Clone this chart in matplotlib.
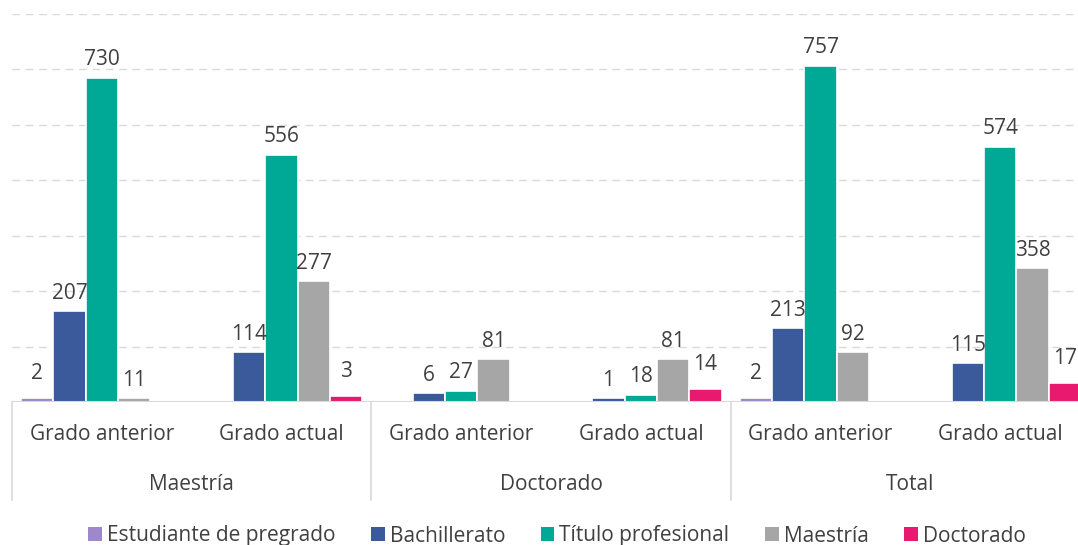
import matplotlib
matplotlib.use("Agg")
import matplotlib.pyplot as plt
from matplotlib.patches import Patch
import matplotlib.transforms as mtransforms

plt.rcParams['font.family'] = ['Open Sans', 'DejaVu Sans']

groups = ["Maestría", "Doctorado", "Total"]
subcats = ["Grado anterior", "Grado actual"]
series = ["Estudiante de pregrado", "Bachillerato", "Título profesional", "Maestría", "Doctorado"]
colors = ["#9F88C9", "#3A5A9C", "#00A896", "#A6A6A6", "#E8196E"]

# data labels as printed on the chart ("" = no label)
lbl_pregrado = ["2", "", "", "", "2", ""]
lbl_bachillerato = ["207", "114", "6", "1", "213", "115"]
lbl_titulo = ["730", "556", "27", "18", "757", "574"]
lbl_maestria = ["11", "277", "81", "81", "92", "358"]
lbl_doctorado = ["", "3", "", "14", "", "17"]

# bar heights as drawn on the chart (axis units)
h_pregrado = [10, 0, 0, 0, 10, 0]
h_bachillerato = [205, 112, 20, 10, 168, 89]
h_titulo = [730, 556, 24, 15, 757, 574]
h_maestria = [10, 274, 98, 98, 112, 302]
h_doctorado = [0, 14, 0, 29, 0, 42]

labels = [lbl_pregrado, lbl_bachillerato, lbl_titulo, lbl_maestria, lbl_doctorado]
heights = [h_pregrado, h_bachillerato, h_titulo, h_maestria, h_doctorado]
label_offsets = [10, 5, 6, 5, 10]  # points above bar top, per series

W, H = 1078, 545
fig = plt.figure(figsize=(W / 100, H / 100), dpi=100)
left, right = 12 / W, 1090 / W
bottom, top = 1 - 402 / H, 1 - 14 / H
ax = fig.add_axes([left, bottom, right - left, top - bottom])

ncat = len(groups) * len(subcats)
ax.set_xlim(0, ncat)
ax.set_ylim(0, 875)
ax.set_yticks([125, 250, 375, 500, 625, 750, 875])
ax.yaxis.grid(True, color="#D9D9D9", linestyle=(0, (5.5, 4.1)), linewidth=1)
ax.set_axisbelow(True)
for s in ax.spines.values():
    s.set_visible(False)
ax.tick_params(left=False, bottom=False, labelleft=False, labelbottom=False)

bw = 0.18
txtc = "#404040"
fs = 15
for k, (hs, lbs, c) in enumerate(zip(heights, labels, colors)):
    xs = [i + 0.5 + (k - 2) * bw for i in range(ncat)]
    ax.bar(xs, hs, width=bw, color=c, edgecolor="white", linewidth=1.2, zorder=2)
    for x, v, t in zip(xs, hs, lbs):
        if t:
            ax.annotate(t, (x, v), xytext=(0, label_offsets[k]), textcoords="offset points",
                        ha="center", va="bottom", fontsize=fs, color=txtc, zorder=3)

# baseline
ax.axhline(0, color="#D9D9D9", linewidth=1.5, zorder=3)

trans = mtransforms.blended_transform_factory(ax.transData, ax.transAxes)
axh_px = 402 - 14
sep_bottom = -(500 - 402) / axh_px
for b in range(0, ncat + 1, 2):
    ax.plot([b, b], [0, sep_bottom], transform=trans, color="#D9D9D9",
            linewidth=1.2, clip_on=False)

sub_y = -(435 - 402) / axh_px
grp_y = -(484 - 402) / axh_px
for gi, g in enumerate(groups):
    for si, s in enumerate(subcats):
        ax.text(gi * 2 + si + 0.5, sub_y, s, transform=trans, ha="center", va="center",
                fontsize=fs, color=txtc)
    ax.text(gi * 2 + 1, grp_y, g, transform=trans, ha="center", va="center",
            fontsize=fs, color=txtc)

handles = [Patch(facecolor=c, edgecolor="none", label=s) for s, c in zip(series, colors)]
fig.legend(handles=handles, loc="center", bbox_to_anchor=(557 / W, 1 - 536 / H), ncol=5,
           frameon=False, fontsize=fs, handlelength=0.65, handleheight=0.65,
           handletextpad=0.24, columnspacing=1.72, labelcolor=txtc,
           borderaxespad=0, borderpad=0)

fig.savefig("out.png", dpi=100)
